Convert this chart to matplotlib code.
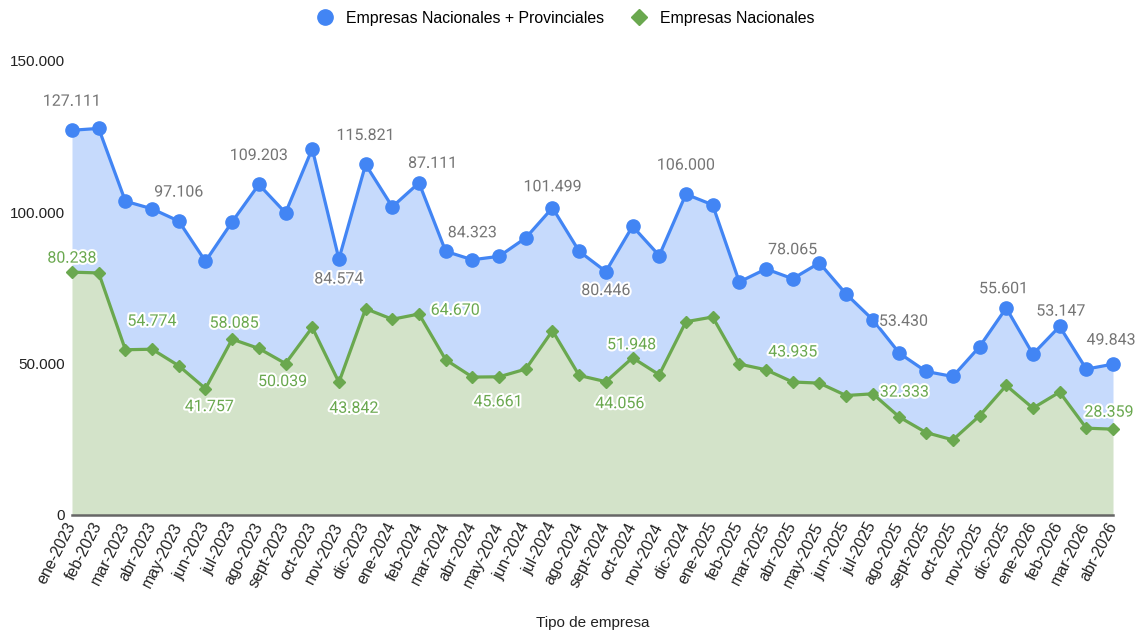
import matplotlib
matplotlib.use("Agg")
import matplotlib.pyplot as plt
import matplotlib.patheffects as pe
from matplotlib.lines import Line2D
from matplotlib.ticker import FuncFormatter

# meses del eje x
meses = ["ene-2023", "feb-2023", "mar-2023", "abr-2023", "may-2023", "jun-2023",
         "jul-2023", "ago-2023", "sept-2023", "oct-2023", "nov-2023", "dic-2023",
         "ene-2024", "feb-2024", "mar-2024", "abr-2024", "may-2024", "jun-2024",
         "jul-2024", "ago-2024", "sept-2024", "oct-2024", "nov-2024", "dic-2024",
         "ene-2025", "feb-2025", "mar-2025", "abr-2025", "may-2025", "jun-2025",
         "jul-2025", "ago-2025", "sept-2025", "oct-2025", "nov-2025", "dic-2025",
         "ene-2026", "feb-2026", "mar-2026", "abr-2026"]

# empresas nacionales + provinciales
nac_prov = [127111, 127730, 103670, 101160, 97106, 83820, 96860, 109203, 99830, 121010,
            84574, 115821, 101820, 109760, 87111, 84323, 85470, 91560, 101499, 87130,
            80446, 95400, 85700, 106000, 102480, 77000, 81300, 78065, 83290, 73030,
            64530, 53430, 47420, 45770, 55601, 68400, 53147, 62310, 48210, 49843]

# empresas nacionales
nacionales = [80238, 79980, 54600, 54774, 49300, 41757, 58085, 55030, 50039, 61980,
              43842, 68170, 64670, 66410, 51290, 45570, 45661, 48210, 60890, 46100,
              44056, 51948, 46330, 63860, 65420, 49870, 47980, 43935, 43580, 39480,
              40040, 32333, 27230, 24820, 32760, 42790, 35310, 40600, 28690, 28359]

# puntos con etiqueta de valor
etiq_nac_prov = [0, 4, 7, 10, 11, 14, 15, 18, 20, 23, 27, 31, 34, 36, 39]
etiq_nacionales = [0, 3, 5, 6, 8, 10, 12, 16, 20, 21, 27, 31, 39]

# desplazamiento de cada etiqueta (pixeles)
desp_nac_prov = [(0, 29), (0, 29), (0, 29), (0, -20), (0, 29), (-13, 88), (0, 27),
                 (0, 21), (0, -19), (0, 29), (0, 29), (4, 32), (24, 58), (28, 43), (-2, 24)]
desp_nacionales = [(0, 14), (0, 28), (4, -18), (2, 16), (-3, -18), (15, -26), (63, 9),
                   (-1, -25), (14, -22), (-1, 13), (0, 30), (5, 25), (-4, 17)]

AZUL = "#4285f4"
VERDE = "#6aa84f"


def miles(v, pos=None):
    return "{:,.0f}".format(v).replace(",", ".")


fig = plt.figure(figsize=(11.42, 6.32), dpi=100)
ax = fig.add_axes([72 / 1142, 117 / 632, 1041 / 1142, 454 / 632])

x = list(range(len(meses)))

ax.fill_between(x, nacionales, nac_prov, color="#c6dafc", lw=0, zorder=1)
ax.fill_between(x, 0, nacionales, color="#d3e3c9", lw=0, zorder=1)
ax.plot(x, nac_prov, color=AZUL, lw=2.3, marker="o", ms=9.5, zorder=3, clip_on=False)
ax.plot(x, nacionales, color=VERDE, lw=2.3, marker="D", ms=6.5, zorder=3, clip_on=False)

halo = [pe.withStroke(linewidth=3, foreground="white")]
for i, (dx, dy) in zip(etiq_nac_prov, desp_nac_prov):
    ax.annotate(miles(nac_prov[i]), (x[i], nac_prov[i]), xytext=(dx, dy),
                textcoords="offset pixels", ha="center", va="center",
                fontsize=11.5, family="Roboto", color="#757575",
                path_effects=halo, zorder=5)
for i, (dx, dy) in zip(etiq_nacionales, desp_nacionales):
    ax.annotate(miles(nacionales[i]), (x[i], nacionales[i]), xytext=(dx, dy),
                textcoords="offset pixels", ha="center", va="center",
                fontsize=11.5, family="Roboto", color=VERDE,
                path_effects=halo, zorder=5)

ax.set_xlim(0, len(meses) - 1)
ax.set_ylim(0, 150000)
ax.set_yticks([0, 50000, 100000, 150000])
ax.yaxis.set_major_formatter(FuncFormatter(miles))
ax.set_xticks(x)
ax.set_xticklabels(meses, rotation=63, ha="right", va="center",
                   rotation_mode="anchor", family="Liberation Sans", fontsize=11.5,
                   color="#222222")
for t in ax.get_yticklabels():
    t.set_family("Liberation Sans")
    t.set_fontsize(11)
    t.set_color("#222222")
ax.tick_params(axis="both", length=0)
ax.tick_params(axis="x", pad=6)
ax.tick_params(axis="y", pad=5)

for s in ["top", "right", "left"]:
    ax.spines[s].set_visible(False)
ax.spines["bottom"].set_color("#666666")
ax.spines["bottom"].set_linewidth(1.8)
ax.spines["bottom"].set_zorder(4)

ax.set_xlabel("Tipo de empresa", family="Liberation Sans", fontsize=11,
              color="#222222")
ax.xaxis.set_label_coords(0.5, -101 / 454)

manejadores = [
    Line2D([], [], color=AZUL, marker="o", ls="", ms=11),
    Line2D([], [], color=VERDE, marker="D", ls="", ms=8),
]
fig.legend(manejadores, ["Empresas Nacionales + Provinciales", "Empresas Nacionales"],
           loc="center", bbox_to_anchor=(0.492, 1 - 18 / 632), ncol=2, frameon=False,
           prop={"family": "Liberation Sans", "size": 11.4}, handletextpad=0.3,
           columnspacing=1.2)

fig.savefig("out.png", dpi=100)
